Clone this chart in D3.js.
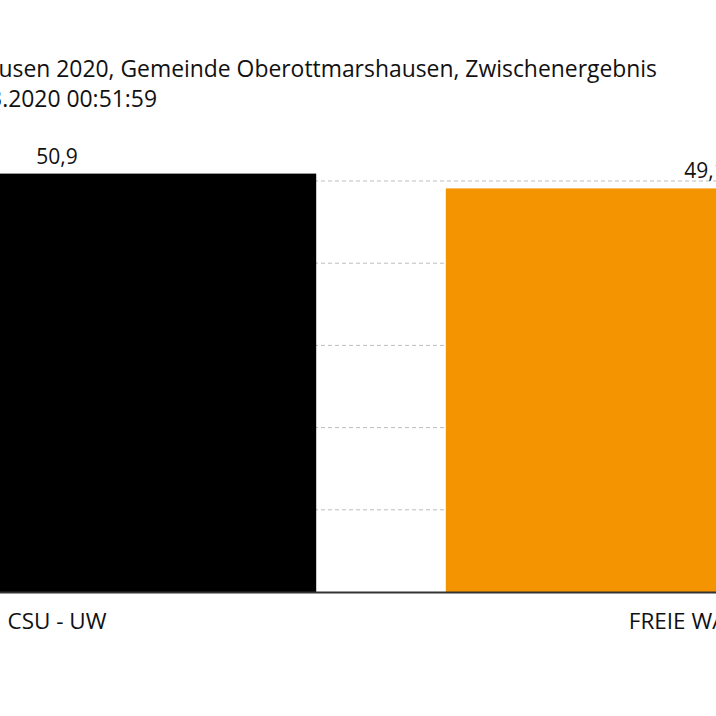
<!DOCTYPE html>
<html>
<head>
<meta charset="utf-8">
<script src="https://cdn.jsdelivr.net/npm/d3@7"></script>
<style>
  html, body { margin: 0; padding: 0; background: #fff; overflow: hidden; }
  svg { display: block; }
</style>
</head>
<body>
<div id="chart"></div>
<script>
const TITLE = 'Gemeinderatswahl Oberottmarshausen 2020, Gemeinde Oberottmarshausen, Zwischenergebnis';
const SUBTITLE = 'Stand: 16.03.2020 00:51:59';

const PARTIES = ['CSU - UW', 'FREIE WÄHLER'];
const SHARES = [50.9, 49.1];
const COLORS = ['#000000', '#f39400'];
const GRID_TICKS = [10, 20, 30, 40, 50];

const W = 716, H = 716;
const FONT = '"Open Sans", "Noto Sans", sans-serif';

const svg = d3.select('#chart').append('svg')
  .attr('width', W)
  .attr('height', H);

// the visible window shows only part of a wider chart
const x = d3.scaleBand()
  .domain(PARTIES)
  .range([-267, 1029])
  .paddingInner(0.2)
  .paddingOuter(0.1);

const y = d3.scaleLinear()
  .domain([0, 50])
  .range([592, 181]);

// title block (left edge runs off the window)
svg.append('text')
  .attr('x', 657).attr('y', 77)
  .attr('text-anchor', 'end')
  .attr('font-family', FONT)
  .attr('font-size', 22.9)
  .attr('fill', '#111')
  .text(TITLE);

svg.append('text')
  .attr('x', 157).attr('y', 107)
  .attr('text-anchor', 'end')
  .attr('font-family', FONT)
  .attr('font-size', 22.9)
  .attr('fill', '#111')
  .text(SUBTITLE);

// dashed grid
svg.append('g')
  .selectAll('line')
  .data(GRID_TICKS)
  .join('line')
  .attr('x1', x.range()[0]).attr('x2', x.range()[1])
  .attr('y1', d => y(d)).attr('y2', d => y(d))
  .attr('stroke', '#bdbdbd')
  .attr('stroke-width', 1)
  .attr('stroke-dasharray', '4,3');

const data = PARTIES.map((p, i) => ({ party: p, value: SHARES[i], color: COLORS[i] }));

svg.append('g')
  .selectAll('rect')
  .data(data)
  .join('rect')
  .attr('x', d => x(d.party))
  .attr('y', d => y(d.value))
  .attr('width', x.bandwidth())
  .attr('height', d => y(0) - y(d.value))
  .attr('fill', d => d.color);

svg.append('g')
  .selectAll('text')
  .data(data)
  .join('text')
  .attr('x', d => x(d.party) + x.bandwidth() / 2)
  .attr('y', d => y(d.value) - 10)
  .attr('text-anchor', 'middle')
  .attr('font-family', FONT)
  .attr('font-size', 21)
  .attr('fill', '#111')
  .text(d => d3.format('.1f')(d.value).replace('.', ','));

// baseline + category labels
const xAxis = svg.append('g')
  .attr('transform', `translate(0,${y(0)})`)
  .call(d3.axisBottom(x).tickSize(0).tickPadding(21));
xAxis.select('.domain').attr('stroke', '#333').attr('stroke-width', 2);
xAxis.selectAll('.tick text')
  .attr('font-family', FONT)
  .attr('font-size', 22.5)
  .attr('fill', '#111');
</script>
</body>
</html>
